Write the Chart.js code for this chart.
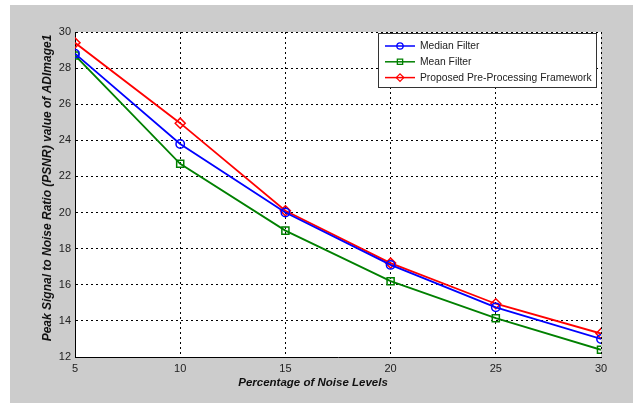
<!DOCTYPE html>
<html>
<head>
<meta charset="utf-8">
<script src="https://cdn.jsdelivr.net/npm/chart.js@4.4.1/dist/chart.umd.min.js"></script>
<style>
  html, body { margin: 0; padding: 0; background: #ffffff; }
  #wrap { width: 633px; height: 403px; }
</style>
</head>
<body>
<div id="wrap"><canvas id="psnrChart" width="633" height="403"></canvas></div>
<script>
// Data
const noiseLevels = [5, 10, 15, 20, 25, 30];
const medianFilter = [28.8, 23.8, 20.0, 17.1, 14.75, 13.0];
const meanFilter = [28.7, 22.7, 19.0, 16.2, 14.15, 12.4];
const proposedFramework = [29.4, 24.95, 20.1, 17.2, 14.95, 13.3];
const xTicks = [5, 10, 15, 20, 25, 30];
const yTicks = [12, 14, 16, 18, 20, 22, 24, 26, 28, 30];

const toPoints = vals => vals.map((v, i) => ({ x: noiseLevels[i], y: v }));

// figure background, white axes area, axis titles and legend box
const matlabLook = {
    id: 'matlabLook',
    beforeDraw(chart) {
        const { ctx, chartArea: a } = chart;
        ctx.save();
        ctx.fillStyle = '#ffffff';
        ctx.fillRect(0, 0, chart.width, chart.height);
        ctx.fillStyle = '#cccccc';
        ctx.fillRect(10, 5, chart.width - 10, chart.height - 5);
        ctx.fillStyle = '#ffffff';
        ctx.fillRect(a.left, a.top, a.right - a.left, a.bottom - a.top);
        ctx.restore();
    },
    afterDraw(chart) {
        const { ctx } = chart;
        ctx.save();
        ctx.fillStyle = '#111111';
        ctx.textAlign = 'center';
        ctx.textBaseline = 'middle';
        ctx.font = 'italic bold 11.5px "Liberation Sans", Arial, sans-serif';
        ctx.fillText('Percentage of Noise Levels', 313, 383);
        ctx.translate(48, 188);
        ctx.rotate(-Math.PI / 2);
        ctx.font = 'italic bold 12px "Liberation Sans", Arial, sans-serif';
        ctx.fillText('Peak Signal to Noise Ratio (PSNR) value of ADImage1', 0, 0);
        ctx.restore();

        // legend
        const box = { x: 378.5, y: 33.5, w: 218, h: 54 };
        ctx.save();
        ctx.fillStyle = '#ffffff';
        ctx.fillRect(box.x, box.y, box.w, box.h);
        ctx.strokeStyle = '#333333';
        ctx.lineWidth = 1;
        ctx.strokeRect(box.x, box.y, box.w, box.h);
        ctx.font = '10.3px "Liberation Sans", Arial, sans-serif';
        ctx.textAlign = 'left';
        ctx.textBaseline = 'middle';
        chart.data.datasets.forEach((ds, i) => {
            const y = 46 + i * 15.8;
            ctx.strokeStyle = ds.borderColor;
            ctx.lineWidth = 1.5;
            ctx.beginPath();
            ctx.moveTo(385, y);
            ctx.lineTo(415, y);
            ctx.stroke();
            ctx.fillStyle = 'rgba(0,0,0,0)';
            ctx.strokeStyle = ds.borderColor;
            ctx.lineWidth = 1.3;
            Chart.helpers.drawPoint(ctx, {
                pointStyle: ds.pointStyle,
                radius: ds.pointRadius * 0.75,
                borderWidth: 1.3
            }, 400, y);
            ctx.fillStyle = '#222222';
            ctx.fillText(ds.label, 420, y + 0.5);
        });
        ctx.restore();
    }
};

new Chart(document.getElementById('psnrChart').getContext('2d'), {
    type: 'line',
    data: {
        datasets: [{
            label: 'Median Filter',
            data: toPoints(medianFilter),
            borderColor: '#0000ff',
            pointBorderColor: '#0000ff',
            pointBackgroundColor: 'rgba(0,0,0,0)',
            pointStyle: 'circle',
            pointRadius: 4.2,
            pointBorderWidth: 1.5,
            borderWidth: 1.8,
            tension: 0
        }, {
            label: 'Mean Filter',
            data: toPoints(meanFilter),
            borderColor: '#008000',
            pointBorderColor: '#008000',
            pointBackgroundColor: 'rgba(0,0,0,0)',
            pointStyle: 'rect',
            pointRadius: 5,
            pointBorderWidth: 1.5,
            borderWidth: 1.8,
            tension: 0
        }, {
            label: 'Proposed Pre-Processing Framework',
            data: toPoints(proposedFramework),
            borderColor: '#ff0000',
            pointBorderColor: '#ff0000',
            pointBackgroundColor: 'rgba(0,0,0,0)',
            pointStyle: 'rectRot',
            pointRadius: 5,
            pointBorderWidth: 1.5,
            borderWidth: 1.8,
            tension: 0
        }]
    },
    options: {
        responsive: false,
        animation: false,
        devicePixelRatio: 1,
        layout: { padding: { top: 32, right: 32, left: 0, bottom: 0 } },
        plugins: {
            legend: { display: false },
            tooltip: { enabled: false }
        },
        scales: {
            x: {
                type: 'linear',
                min: 5,
                max: 30,
                afterBuildTicks: s => { s.ticks = xTicks.map(v => ({ value: v })); },
                afterFit: s => { s.height = 46; },
                ticks: {
                    color: '#222222',
                    font: { family: '"Liberation Sans", Arial, sans-serif', size: 11 },
                    padding: 5,
                    maxRotation: 0
                },
                grid: {
                    color: '#000000',
                    lineWidth: 1,
                    drawTicks: false
                },
                border: { display: true, color: '#000000', width: 1, dash: [2, 3] }
            },
            y: {
                min: 12,
                max: 30,
                afterBuildTicks: s => { s.ticks = yTicks.map(v => ({ value: v })); },
                afterFit: s => { s.width = 75; },
                ticks: {
                    color: '#222222',
                    font: { family: '"Liberation Sans", Arial, sans-serif', size: 11 },
                    padding: 4
                },
                grid: {
                    color: '#000000',
                    lineWidth: 1,
                    drawTicks: false
                },
                border: { display: true, color: '#000000', width: 1, dash: [2, 3] }
            }
        }
    },
    plugins: [matlabLook]
});
</script>
</body>
</html>
